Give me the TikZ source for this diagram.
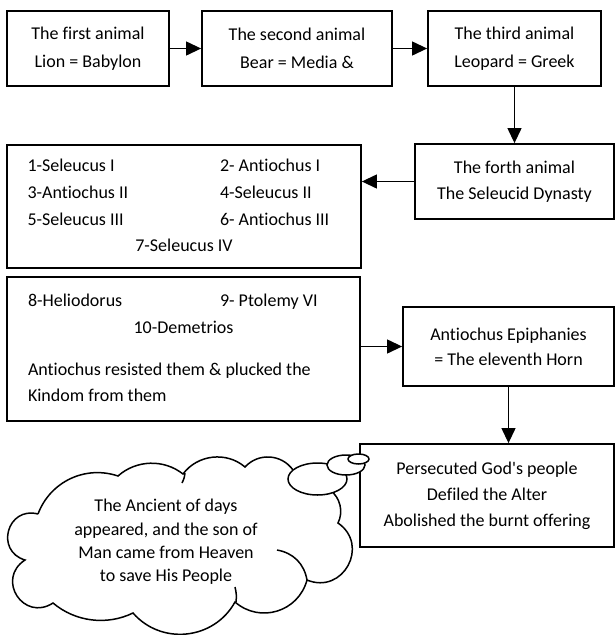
\documentclass[tikz,border=0pt]{standalone}
\usepackage{fontspec}
\setmainfont{Carlito}[Ligatures={NoCommon,TeXOff}]
\usetikzlibrary{arrows.meta}

\begin{document}
\begin{tikzpicture}
[x=1pt,y=-1pt,
 boxDecorate/.style={shape=rectangle,draw,line width=1.8pt,align=center,inner sep=0pt,
   font=\fontsize{18}{27}\selectfont},
 lineDecorate/.style={line width=1.2pt,-{Triangle[length=15pt,width=14pt]}},
 cloudDecorate/.style={draw,line width=1.5pt},
 bubbleDecorate/.style={draw,line width=1.5pt,fill=white}]
\useasboundingbox (0,0) rectangle (615,635);
%% the four animals
\foreach \nodename/\x/\y/\w in {b1/88/48.5/162, b2/297/48.5/190, b3/514.5/48.5/173, b4/514.5/181.5/199}
{
  \node (\nodename) at (\x,\y) [boxDecorate,minimum width=\w pt,minimum height=75pt] {};
}
\node at (b1) [font=\fontsize{18}{28}\selectfont,align=center] {The first animal\\Lion = Babylon};
\node at (b2) [font=\fontsize{18}{28}\selectfont,align=center] {The second animal\\Bear = Media \&};
\node at (b3) [font=\fontsize{18}{28}\selectfont,align=center] {The third animal\\Leopard = Greek};
\node at (b4) [font=\fontsize{18}{26}\selectfont,align=center] {The forth animal\\The Seleucid Dynasty};
%% the horns
\node (l1) at (184,206.5) [boxDecorate,minimum width=354pt,minimum height=123pt,
  font=\fontsize{18}{26.6}\selectfont]
{\begin{tabular}{@{}p{192.5pt}@{}p{120.5pt}@{}}
1-Seleucus I & 2- Antiochus I\\
3-Antiochus II & 4-Seleucus II\\
5-Seleucus III & 6- Antiochus III\\
\multicolumn{2}{@{}c@{}}{7-Seleucus IV}
\end{tabular}};
\node (l2) at (183.5,349) [boxDecorate,minimum width=353pt,minimum height=144pt,
  font=\fontsize{18}{26.5}\selectfont]
{\begin{tabular}{@{}p{192pt}@{}p{119pt}@{}}
8-Heliodorus & 9- Ptolemy VI\\
\multicolumn{2}{@{}c@{}}{10-Demetrios}\\[15.5pt]
\multicolumn{2}{@{}l@{}}{Antiochus resisted them \& plucked the}\\
\multicolumn{2}{@{}l@{}}{Kindom from them}
\end{tabular}};
\node (ant) at (508.5,346.5) [boxDecorate,minimum width=211pt,minimum height=79pt,
  font=\fontsize{18}{25}\selectfont] {Antiochus Epiphanies\\= The eleventh Horn};
\node (pers) at (487,495.5) [boxDecorate,minimum width=254pt,minimum height=103pt,
  font=\fontsize{18}{26}\selectfont]
  {Persecuted God's people\\Defiled the Alter\\Abolished the burnt offering};
%% the cloud
\draw[cloudDecorate] (38,514) to[bend left=44,looseness=1.0] (118,476)
  to[bend left=40,looseness=0.96] (183,474)
  to[bend left=47,looseness=1.0] (245,467)
  to[bend left=51,looseness=1.05] (293,470)
  -- (330,490)
  to[bend left=40,looseness=0.96] (338,523)
  to[bend left=84,looseness=1.54] (307,580)
  to[bend left=58,looseness=1.12] (235,602)
  to[bend left=55,looseness=1.08] (133,613)
  to[bend left=33,looseness=0.93] (53,603)
  to[bend left=90,looseness=1.75] (25,560)
  to[bend left=89,looseness=1.7] (38,514);
\draw[cloudDecorate] (185,473) to[bend left=10] (182,483);
\draw[cloudDecorate] (277,550) to[bend left=35] (307,580);
\draw[cloudDecorate] (235,587) to[bend left=10] (236,602);
\draw[bubbleDecorate] (317.5,479) ellipse [x radius=29.5, y radius=16];
\draw[bubbleDecorate] (346,465) ellipse [x radius=19, y radius=10];
\draw[bubbleDecorate] (358.5,459) ellipse [x radius=10.5, y radius=5];
\node (cloudText) at (166,542) [font=\fontsize{18}{23.3}\selectfont,align=center]
  {The Ancient of days\\appeared, and the son of\\Man came from Heaven\\to save His People};
%% arrows
\path
\foreach \startnode/\endnode in {b1/b2, b2/b3, b3/b4}
{
  (\startnode) edge[lineDecorate] (\endnode)
};
\draw[lineDecorate] (b4.west) -- (b4.west -| l1.east);
\draw[lineDecorate] (ant.west -| l2.east) -- (ant.west);
\draw[lineDecorate] (ant.south) -- (ant.south |- pers.north);
\end{tikzpicture}
\end{document}
